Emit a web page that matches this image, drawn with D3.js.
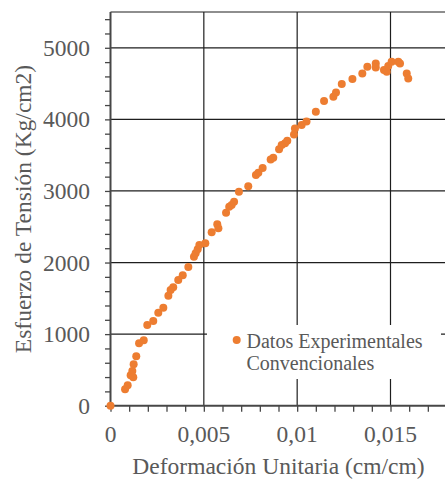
<!DOCTYPE html>
<html>
<head>
<meta charset="utf-8">
<script src="https://cdn.jsdelivr.net/npm/d3@7"></script>
<style>
  html, body { margin: 0; padding: 0; background: #fff; }
  svg { display: block; }
  text { font-family: "Liberation Serif", "Times New Roman", serif; fill: #595959; }
</style>
</head>
<body>
<svg id="chart" width="445" height="482"></svg>
<script>
// Data: strain (cm/cm) and stress (Kg/cm2)
const strain = [0, 0.00078, 0.00092, 0.00108, 0.00117, 0.00122, 0.00124, 0.00138, 0.00153, 0.00178,
  0.00197, 0.00229, 0.00256, 0.00283, 0.00310, 0.00322, 0.00336, 0.00363, 0.00387, 0.00417,
  0.00447, 0.00456, 0.00467, 0.00476, 0.00508, 0.00542, 0.00572, 0.00578, 0.00619, 0.00636,
  0.00649, 0.00662, 0.00688, 0.00738, 0.00779, 0.00792, 0.00815, 0.00858, 0.00872, 0.00903,
  0.00917, 0.00935, 0.00947, 0.00983, 0.00988, 0.01024, 0.01050, 0.01100, 0.01144, 0.01194,
  0.01208, 0.01239, 0.01296, 0.01349, 0.01376, 0.01421, 0.01421, 0.01465, 0.01480, 0.01488,
  0.01506, 0.01542, 0.01551, 0.01587, 0.01595];
const stress = [0, 229, 285, 424, 485, 397, 578, 690, 872, 913,
  1127, 1183, 1299, 1369, 1536, 1616, 1654, 1756, 1821, 1937,
  2081, 2128, 2184, 2244, 2268, 2422, 2534, 2478, 2696, 2779,
  2803, 2849, 2989, 3064, 3222, 3254, 3320, 3441, 3464, 3581,
  3641, 3665, 3701, 3790, 3874, 3920, 3970, 4106, 4256, 4316,
  4377, 4493, 4563, 4642, 4735, 4782, 4726, 4689, 4665, 4744,
  4804, 4804, 4782, 4642, 4572];

const xTicks = [0, 0.005, 0.01, 0.015];
const xTickLabels = ["0", "0,005", "0,01", "0,015"];
const xMinorTicks = d3.range(0, 18).map(i => i * 0.001);
const yTicks = [0, 1000, 2000, 3000, 4000, 5000];
const yTickLabels = ["0", "1000", "2000", "3000", "4000", "5000"];
const yMinorTicks = d3.range(0, 28).map(i => i * 200);
const seriesName = ["Datos Experimentales", "Convencionales"];
const xTitle = "Deformación Unitaria (cm/cm)";
const yTitle = "Esfuerzo de Tensión (Kg/cm2)";

const svg = d3.select("#chart");
const x = d3.scaleLinear().domain([0, 0.018]).range([110.5, 446.5]);
const y = d3.scaleLinear().domain([0, 5500]).range([405.7, 12]);

const gridColor = "#1e1e1e";
const axisColor = "#474747";
const orange = "#ED7D31";

// gridlines
const grid = svg.append("g");
grid.selectAll("line.hg").data(yTicks.filter(d => d > 0)).join("line")
  .attr("x1", x(0)).attr("x2", x(0.018))
  .attr("y1", d => y(d)).attr("y2", d => y(d))
  .attr("stroke", gridColor).attr("stroke-width", 1.2);
grid.selectAll("line.vg").data(xTicks.filter(d => d > 0)).join("line")
  .attr("x1", d => x(d)).attr("x2", d => x(d))
  .attr("y1", y(0)).attr("y2", y(5500))
  .attr("stroke", gridColor).attr("stroke-width", 1.2);
// top border
grid.append("line")
  .attr("x1", x(0)).attr("x2", x(0.018))
  .attr("y1", y(5500)).attr("y2", y(5500))
  .attr("stroke", gridColor).attr("stroke-width", 1.2);

// legend box (covers gridlines)
const lg = svg.append("g");
lg.append("rect").attr("x", 207).attr("y", 325).attr("width", 234).attr("height", 54).attr("fill", "#fff");
lg.append("circle").attr("cx", 236.7).attr("cy", 340).attr("r", 4).attr("fill", orange);
lg.append("text").attr("x", 246.5).attr("y", 348).style("font-size", "20px").text(seriesName[0]);
lg.append("text").attr("x", 246.5).attr("y", 370).style("font-size", "20px").text(seriesName[1]);

// y axis
const yAxis = d3.axisLeft(y).tickValues(yMinorTicks).tickSize(5.5).tickFormat("");
const gy = svg.append("g").attr("transform", `translate(${x(0)},0)`).call(yAxis);
gy.select(".domain").attr("stroke", axisColor).attr("stroke-width", 2).attr("d", `M0,${y(0)}V${y(5500)}`);
gy.selectAll(".tick line").attr("stroke", axisColor).attr("stroke-width", 1.3);
svg.append("g").selectAll("text").data(yTicks).join("text")
  .attr("x", 90).attr("y", d => y(d))
  .attr("dy", "0.34em")
  .attr("text-anchor", "end")
  .style("font-size", "23.5px")
  .text((d, i) => yTickLabels[i]);

// x axis
const xAxis = d3.axisBottom(x).tickValues(xMinorTicks).tickSize(6).tickFormat("");
const gx = svg.append("g").attr("transform", `translate(0,${y(0)})`).call(xAxis);
gx.select(".domain").attr("stroke", axisColor).attr("stroke-width", 2).attr("d", `M${x(0)},0H${x(0.018)}`);
gx.selectAll(".tick line").attr("stroke", axisColor).attr("stroke-width", 1.3);
svg.append("g").selectAll("text").data(xTicks).join("text")
  .attr("x", d => x(d)).attr("y", 441.7)
  .attr("text-anchor", "middle")
  .style("font-size", "23.5px")
  .text((d, i) => xTickLabels[i]);

// titles
svg.append("text").attr("x", 278.5).attr("y", 474)
  .attr("text-anchor", "middle").style("font-size", "23.5px").text(xTitle);
svg.append("text").attr("transform", `translate(31,209) rotate(-90)`)
  .attr("text-anchor", "middle").style("font-size", "23.5px").text(yTitle);

// points
svg.append("g").selectAll("circle").data(strain.map((s, i) => [s, stress[i]])).join("circle")
  .attr("cx", d => x(d[0])).attr("cy", d => y(d[1]))
  .attr("r", 4).attr("fill", orange);
</script>
</body>
</html>
